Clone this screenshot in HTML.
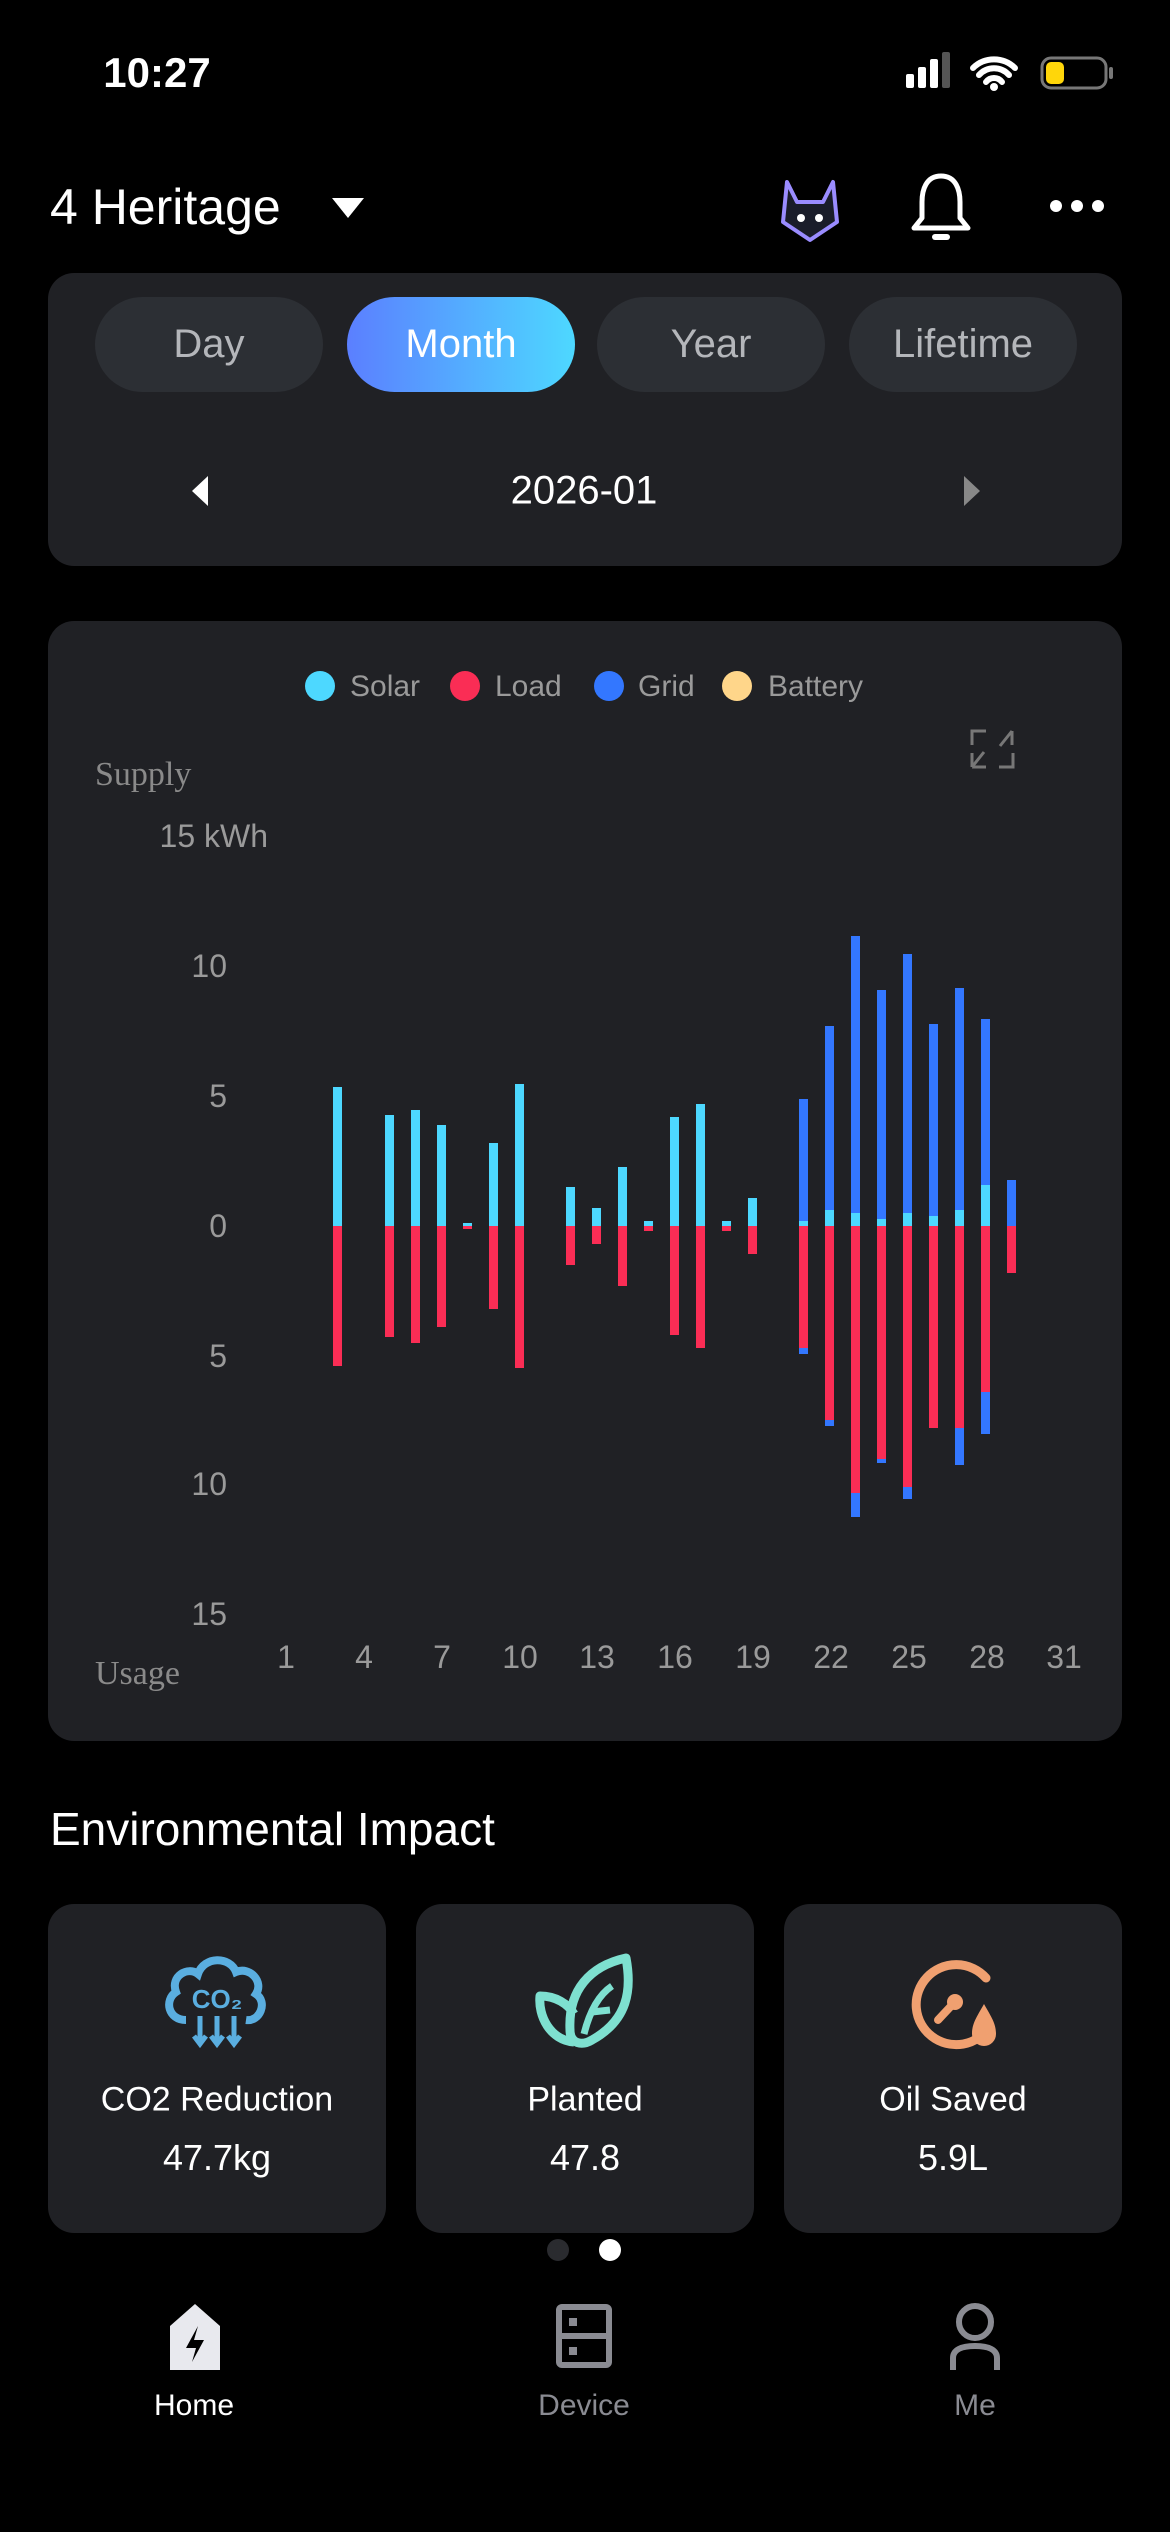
<!DOCTYPE html>
<html><head><meta charset="utf-8"><style>
body{margin:0;width:1170px;height:2532px;background:#000;font-family:"Liberation Sans",sans-serif;overflow:hidden;position:relative;color:#fff}
.a{position:absolute}
.card{position:absolute;background:#202125;border-radius:26px}
.tab{position:absolute;top:297px;width:228px;height:95px;border-radius:48px;background:#2c2f34;color:#b4b6ba;font-size:40px;line-height:95px;text-align:center}
.c{position:absolute;transform:translate(-50%,-50%);white-space:nowrap}
</style></head><body>
<div class="c" style="left:157px;top:73px;font-size:42px;font-weight:bold">10:27</div>
<svg class="a" style="left:900px;top:50px" width="240" height="50">
<rect x="6" y="24" width="8" height="14" rx="2" fill="#fff"/><rect x="18" y="17" width="8" height="21" rx="2" fill="#fff"/><rect x="30" y="9" width="8" height="29" rx="2" fill="#fff"/><rect x="42" y="2" width="8" height="36" rx="2" fill="#555"/>
<path d="M73 18 a30 30 0 0 1 42 0 M79 25 a20 20 0 0 1 30 0 M86 32 a10 10 0 0 1 16 0" stroke="#fff" stroke-width="6" fill="none" stroke-linecap="round"/><circle cx="94" cy="37" r="4" fill="#fff"/>
<rect x="142" y="8" width="64" height="30" rx="9" fill="none" stroke="#777" stroke-width="3"/><rect x="146" y="12" width="18" height="22" rx="5" fill="#ffd60a"/><rect x="209" y="17" width="4" height="12" rx="2" fill="#777"/>
</svg>
<div class="a" style="left:50px;top:178px;font-size:50px">4 Heritage</div>
<svg class="a" style="left:330px;top:196px" width="36" height="26"><path d="M2 2 L34 2 L18 22Z" fill="#fff"/></svg>
<svg class="a" style="left:775px;top:170px" width="70" height="80"><path d="M12 12 L22 32 L48 32 L58 12 L62 52 L35 70 L8 52Z" fill="#1a1d2a" stroke="#9a8cff" stroke-width="4" stroke-linejoin="round"/><circle cx="26" cy="48" r="4" fill="#fff"/><circle cx="44" cy="48" r="4" fill="#fff"/></svg>
<svg class="a" style="left:910px;top:170px" width="62" height="75"><path d="M31 6 C16 6 12 20 12 32 L12 48 L4 58 L58 58 L50 48 L50 32 C50 20 46 6 31 6Z" fill="none" stroke="#fff" stroke-width="5" stroke-linejoin="round"/><rect x="22" y="64" width="18" height="6" rx="3" fill="#fff"/></svg>
<svg class="a" style="left:1048px;top:196px" width="60" height="22"><circle cx="8" cy="10" r="6" fill="#fff"/><circle cx="29" cy="10" r="6" fill="#fff"/><circle cx="50" cy="10" r="6" fill="#fff"/></svg>

<div class="card" style="left:48px;top:273px;width:1074px;height:293px"></div>
<div class="tab" style="left:95px">Day</div>
<div class="tab" style="left:347px;background:linear-gradient(90deg,#5b7fff,#4dd8ff);color:#fff">Month</div>
<div class="tab" style="left:597px">Year</div>
<div class="tab" style="left:849px">Lifetime</div>
<div class="c" style="left:584px;top:491px;font-size:40px">2026-01</div>
<svg class="a" style="left:188px;top:474px" width="24" height="34"><path d="M20 2 L4 17 L20 32Z" fill="#fff"/></svg>
<svg class="a" style="left:960px;top:474px" width="24" height="34"><path d="M4 2 L20 17 L4 32Z" fill="#888"/></svg>

<div class="card" style="left:48px;top:621px;width:1074px;height:1120px"></div>
<svg class="a" style="left:0;top:0" width="1170" height="1800">
<g font-family="Liberation Sans" font-size="30" fill="#9a9a9a">
<circle cx="320" cy="686" r="15" fill="#4dd8ff"/><text x="350" y="696">Solar</text>
<circle cx="465" cy="686" r="15" fill="#fa2d55"/><text x="495" y="696">Load</text>
<circle cx="609" cy="686" r="15" fill="#3377ff"/><text x="638" y="696">Grid</text>
<circle cx="737" cy="686" r="15" fill="#ffd68a"/><text x="768" y="696">Battery</text>
</g>
<path d="M972 745 V731 H986 M1012 731 L1000 746 M1012 731 V745 M972 767 L984 752 M972 767 V753 M972 767 H986 M1013 753 V767 H999" stroke="#777" stroke-width="3" fill="none"/>
<g font-family="Liberation Serif" font-size="34" fill="#8a8a8a"><text x="95" y="785">Supply</text><text x="95" y="1684">Usage</text></g>
<g font-family="Liberation Sans" font-size="32" fill="#9a9a9a" text-anchor="end">
<text x="268" y="847">15 kWh</text><text x="227" y="977">10</text><text x="227" y="1107">5</text><text x="227" y="1237">0</text><text x="227" y="1367">5</text><text x="227" y="1495">10</text><text x="227" y="1625">15</text>
</g>
<g font-family="Liberation Sans" font-size="32" fill="#9a9a9a" text-anchor="middle">
<text x="286" y="1668">1</text><text x="364" y="1668">4</text><text x="442" y="1668">7</text><text x="520" y="1668">10</text><text x="597" y="1668">13</text><text x="675" y="1668">16</text><text x="753" y="1668">19</text><text x="831" y="1668">22</text><text x="909" y="1668">25</text><text x="987" y="1668">28</text><text x="1064" y="1668">31</text>
</g>
<g>
<g fill="#4dd8ff">
<rect x="333" y="1087" width="9" height="139"/><rect x="385" y="1115" width="9" height="111"/><rect x="411" y="1110" width="9" height="116"/><rect x="437" y="1125" width="9" height="101"/><rect x="463" y="1223" width="9" height="3"/><rect x="489" y="1143" width="9" height="83"/><rect x="515" y="1084" width="9" height="142"/>
<rect x="566" y="1187" width="9" height="39"/><rect x="592" y="1208" width="9" height="18"/><rect x="618" y="1167" width="9" height="59"/><rect x="644" y="1221" width="9" height="5"/><rect x="670" y="1117" width="9" height="109"/><rect x="696" y="1104" width="9" height="122"/><rect x="722" y="1221" width="9" height="5"/><rect x="748" y="1198" width="9" height="28"/>
<rect x="799" y="1221" width="9" height="5"/><rect x="825" y="1210" width="9" height="16"/><rect x="851" y="1213" width="9" height="13"/><rect x="877" y="1219" width="9" height="7"/><rect x="903" y="1213" width="9" height="13"/><rect x="929" y="1216" width="9" height="10"/><rect x="955" y="1210" width="9" height="16"/><rect x="981" y="1185" width="9" height="41"/>
</g>
<g fill="#3377ff">
<rect x="799" y="1099" width="9" height="122"/><rect x="825" y="1026" width="9" height="184"/><rect x="851" y="936" width="9" height="277"/><rect x="877" y="990" width="9" height="229"/><rect x="903" y="954" width="9" height="259"/><rect x="929" y="1024" width="9" height="192"/><rect x="955" y="988" width="9" height="222"/><rect x="981" y="1019" width="9" height="166"/><rect x="1007" y="1180" width="9" height="46"/>
<rect x="799" y="1348" width="9" height="6"/><rect x="825" y="1420" width="9" height="6"/><rect x="851" y="1493" width="9" height="24"/><rect x="877" y="1459" width="9" height="4"/><rect x="903" y="1487" width="9" height="12"/><rect x="955" y="1428" width="9" height="37"/><rect x="981" y="1392" width="9" height="42"/>
</g>
<g fill="#fa2d55">
<rect x="333" y="1226" width="9" height="140"/><rect x="385" y="1226" width="9" height="111"/><rect x="411" y="1226" width="9" height="117"/><rect x="437" y="1226" width="9" height="101"/><rect x="463" y="1226" width="9" height="3"/><rect x="489" y="1226" width="9" height="83"/><rect x="515" y="1226" width="9" height="142"/>
<rect x="566" y="1226" width="9" height="39"/><rect x="592" y="1226" width="9" height="18"/><rect x="618" y="1226" width="9" height="60"/><rect x="644" y="1226" width="9" height="5"/><rect x="670" y="1226" width="9" height="109"/><rect x="696" y="1226" width="9" height="122"/><rect x="722" y="1226" width="9" height="5"/><rect x="748" y="1226" width="9" height="28"/>
<rect x="799" y="1226" width="9" height="122"/><rect x="825" y="1226" width="9" height="194"/><rect x="851" y="1226" width="9" height="267"/><rect x="877" y="1226" width="9" height="233"/><rect x="903" y="1226" width="9" height="261"/><rect x="929" y="1226" width="9" height="202"/><rect x="955" y="1226" width="9" height="202"/><rect x="981" y="1226" width="9" height="166"/><rect x="1007" y="1226" width="9" height="47"/>
</g>
</g>
</svg>

<div class="a" style="left:50px;top:1802px;font-size:46px">Environmental Impact</div>
<div class="card" style="left:48px;top:1904px;width:338px;height:329px"></div>
<div class="card" style="left:416px;top:1904px;width:338px;height:329px"></div>
<div class="card" style="left:784px;top:1904px;width:338px;height:329px"></div>
<svg class="a" style="left:160px;top:1950px" width="114" height="105"><path d="M26 70 C8 70 4 50 16 42 C10 26 28 16 38 24 C44 6 70 6 76 22 C90 16 104 32 96 44 C108 52 100 72 86 70" fill="none" stroke="#5aaee0" stroke-width="8"/><text x="57" y="58" font-family="Liberation Sans" font-weight="bold" font-size="26" fill="#5aaee0" text-anchor="middle">CO₂</text><path d="M40 66 V92 M57 66 V92 M74 66 V92 M34 86 L40 94 L46 86 M51 86 L57 94 L63 86 M68 86 L74 94 L80 86" stroke="#5aaee0" stroke-width="5" fill="none"/></svg>
<svg class="a" style="left:530px;top:1950px" width="110" height="105"><path d="M96 8 C60 16 38 40 40 80 C40 94 52 96 62 90 C98 70 102 40 96 8Z M44 92 C20 90 8 66 10 46 C26 46 38 54 44 64" fill="none" stroke="#7ee0d0" stroke-width="9" stroke-linejoin="round"/><path d="M54 84 C60 60 70 44 82 36 M62 62 L80 60" stroke="#7ee0d0" stroke-width="7" fill="none"/></svg>
<svg class="a" style="left:900px;top:1950px" width="110" height="105"><path d="M90 76 A40 40 0 1 1 86 28" fill="none" stroke="#f0a070" stroke-width="9" stroke-linecap="round"/><circle cx="55" cy="52" r="8" fill="#f0a070"/><path d="M53 54 L38 70" stroke="#f0a070" stroke-width="8" stroke-linecap="round"/><path d="M84 54 C76 68 72 74 72 84 A12 12 0 0 0 96 84 C96 74 92 68 84 54Z" fill="#f0a070"/></svg>
<div class="c" style="left:217px;top:2100px;font-size:34px">CO2 Reduction</div>
<div class="c" style="left:217px;top:2158px;font-size:36px">47.7kg</div>
<div class="c" style="left:585px;top:2100px;font-size:34px">Planted</div>
<div class="c" style="left:585px;top:2158px;font-size:36px">47.8</div>
<div class="c" style="left:953px;top:2100px;font-size:34px">Oil Saved</div>
<div class="c" style="left:953px;top:2158px;font-size:36px">5.9L</div>
<svg class="a" style="left:540px;top:2238px" width="90" height="24"><circle cx="18" cy="12" r="11" fill="#2a2b2f"/><circle cx="70" cy="12" r="11" fill="#fff"/></svg>

<svg class="a" style="left:160px;top:2300px" width="70" height="75"><path d="M35 4 L60 26 V70 H10 V26Z" fill="#e8e9ee"/><path d="M38 26 L26 48 H36 L32 62 L44 40 H34Z" fill="#000"/></svg>
<svg class="a" style="left:555px;top:2303px" width="60" height="70"><rect x="4" y="4" width="50" height="58" rx="3" fill="none" stroke="#8a8b92" stroke-width="6"/><path d="M4 33 H54" stroke="#8a8b92" stroke-width="6"/><rect x="14" y="15" width="8" height="8" fill="#8a8b92"/><rect x="14" y="44" width="8" height="8" fill="#8a8b92"/></svg>
<svg class="a" style="left:945px;top:2300px" width="60" height="75"><circle cx="30" cy="22" r="16" fill="none" stroke="#8a8b92" stroke-width="6"/><path d="M8 70 V58 C8 50 16 46 30 46 C44 46 52 50 52 58 V70" fill="none" stroke="#8a8b92" stroke-width="6"/></svg>
<div class="c" style="left:194px;top:2406px;font-size:30px;color:#fff">Home</div>
<div class="c" style="left:584px;top:2406px;font-size:30px;color:#8a8b92">Device</div>
<div class="c" style="left:975px;top:2406px;font-size:30px;color:#8a8b92">Me</div>
</body></html>
